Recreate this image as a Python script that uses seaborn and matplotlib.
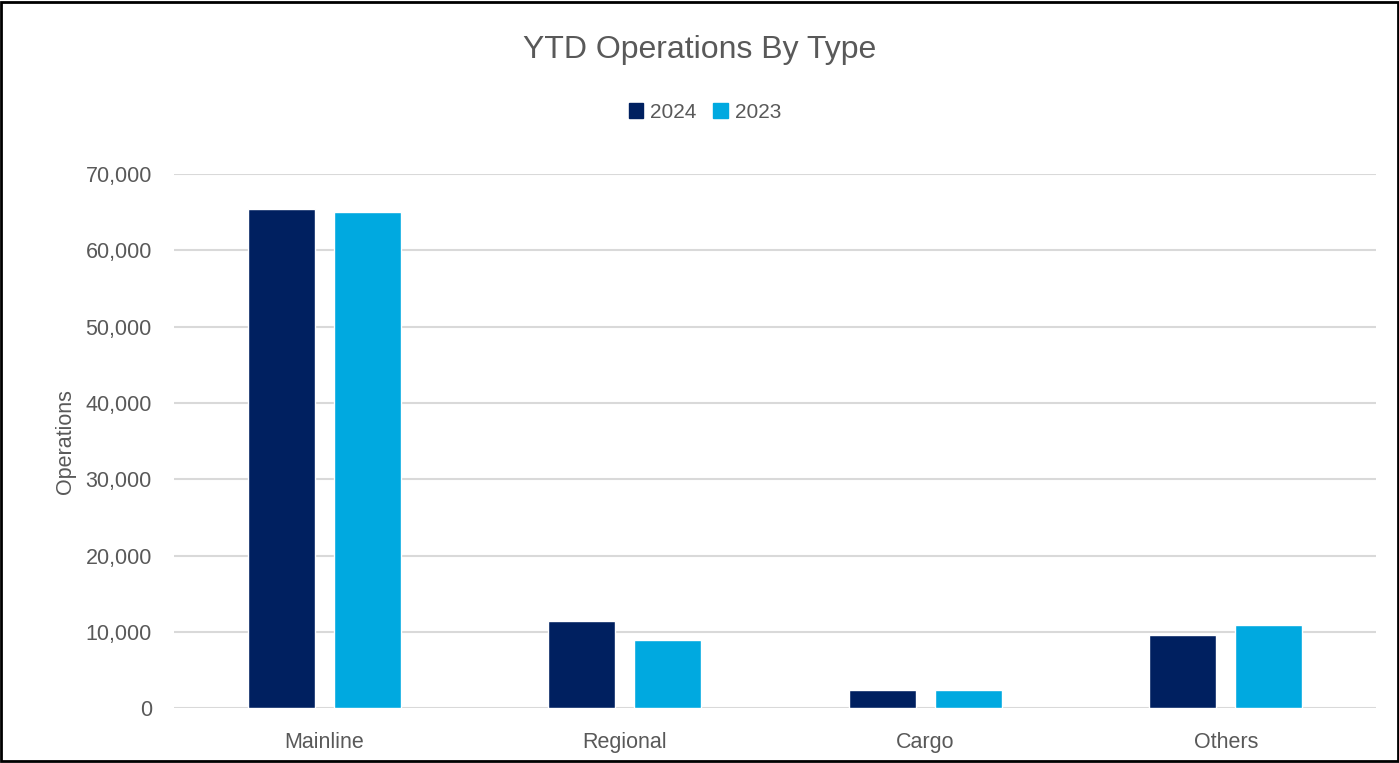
import matplotlib
matplotlib.use("Agg")
import matplotlib.pyplot as plt
import matplotlib.ticker as mticker
import seaborn as sea
import pandas as pd

# values
categories = ["Mainline", "Regional", "Cargo", "Others"]
ops_2024 = [65400, 11500, 2350, 9650]
ops_2023 = [65050, 9000, 2350, 10950]
years = ["2024", "2023"]

df = pd.DataFrame({
    "type": categories * 2,
    "year": [years[0]] * 4 + [years[1]] * 4,
    "ops": ops_2024 + ops_2023,
})

sea.set_style("white")
plt.rcParams["font.family"] = ["Liberation Sans", "DejaVu Sans"]
grey = "#595959"
cols = ["#002060", "#00A9E0"]

fig = plt.figure(figsize=(13.99, 7.63), dpi=100)
ax = fig.add_axes([0.1244, 0.0717, 0.8592, 0.7003])

sea.barplot(data=df, x="type", y="ops", hue="year", hue_order=years,
            palette=cols, saturation=1, width=0.573, gap=0.221,
            ax=ax, legend=False, zorder=3)

ax.set_ylim(0, 70000)
ax.set_xlim(-0.5, 3.5)
ax.yaxis.set_major_locator(mticker.MultipleLocator(10000))
ax.yaxis.set_major_formatter(mticker.StrMethodFormatter("{x:,.0f}"))
ax.grid(axis="y", color="#D9D9D9", linewidth=1.5, zorder=0)
ax.set_axisbelow(True)
for s in ax.spines.values():
    s.set_visible(False)
ax.tick_params(axis="both", length=0, labelsize=15.5, colors=grey)
ax.tick_params(axis="y", pad=16)
ax.tick_params(axis="x", pad=17)
ax.set_xlabel("")
ax.set_ylabel("Operations", fontsize=15.5, color=grey, labelpad=7)

fig.text(0.5, 0.935, "YTD Operations By Type", ha="center", va="center",
         fontsize=23, color=grey)

# legend
handles = [plt.Rectangle((0, 0), 1, 1, color=c) for c in cols]
fig.legend(handles, years, loc="center", bbox_to_anchor=(0.504, 0.853), ncol=2,
           frameon=False, fontsize=15, labelcolor=grey, handlelength=0.7,
           handleheight=0.7, handletextpad=0.35, columnspacing=0.8)

# frame around the picture
fig.patches.append(plt.Rectangle((0.001, 0.002), 0.998, 0.996, transform=fig.transFigure,
                                 fill=False, edgecolor="black", linewidth=2))

fig.savefig("out.png", dpi=100)
